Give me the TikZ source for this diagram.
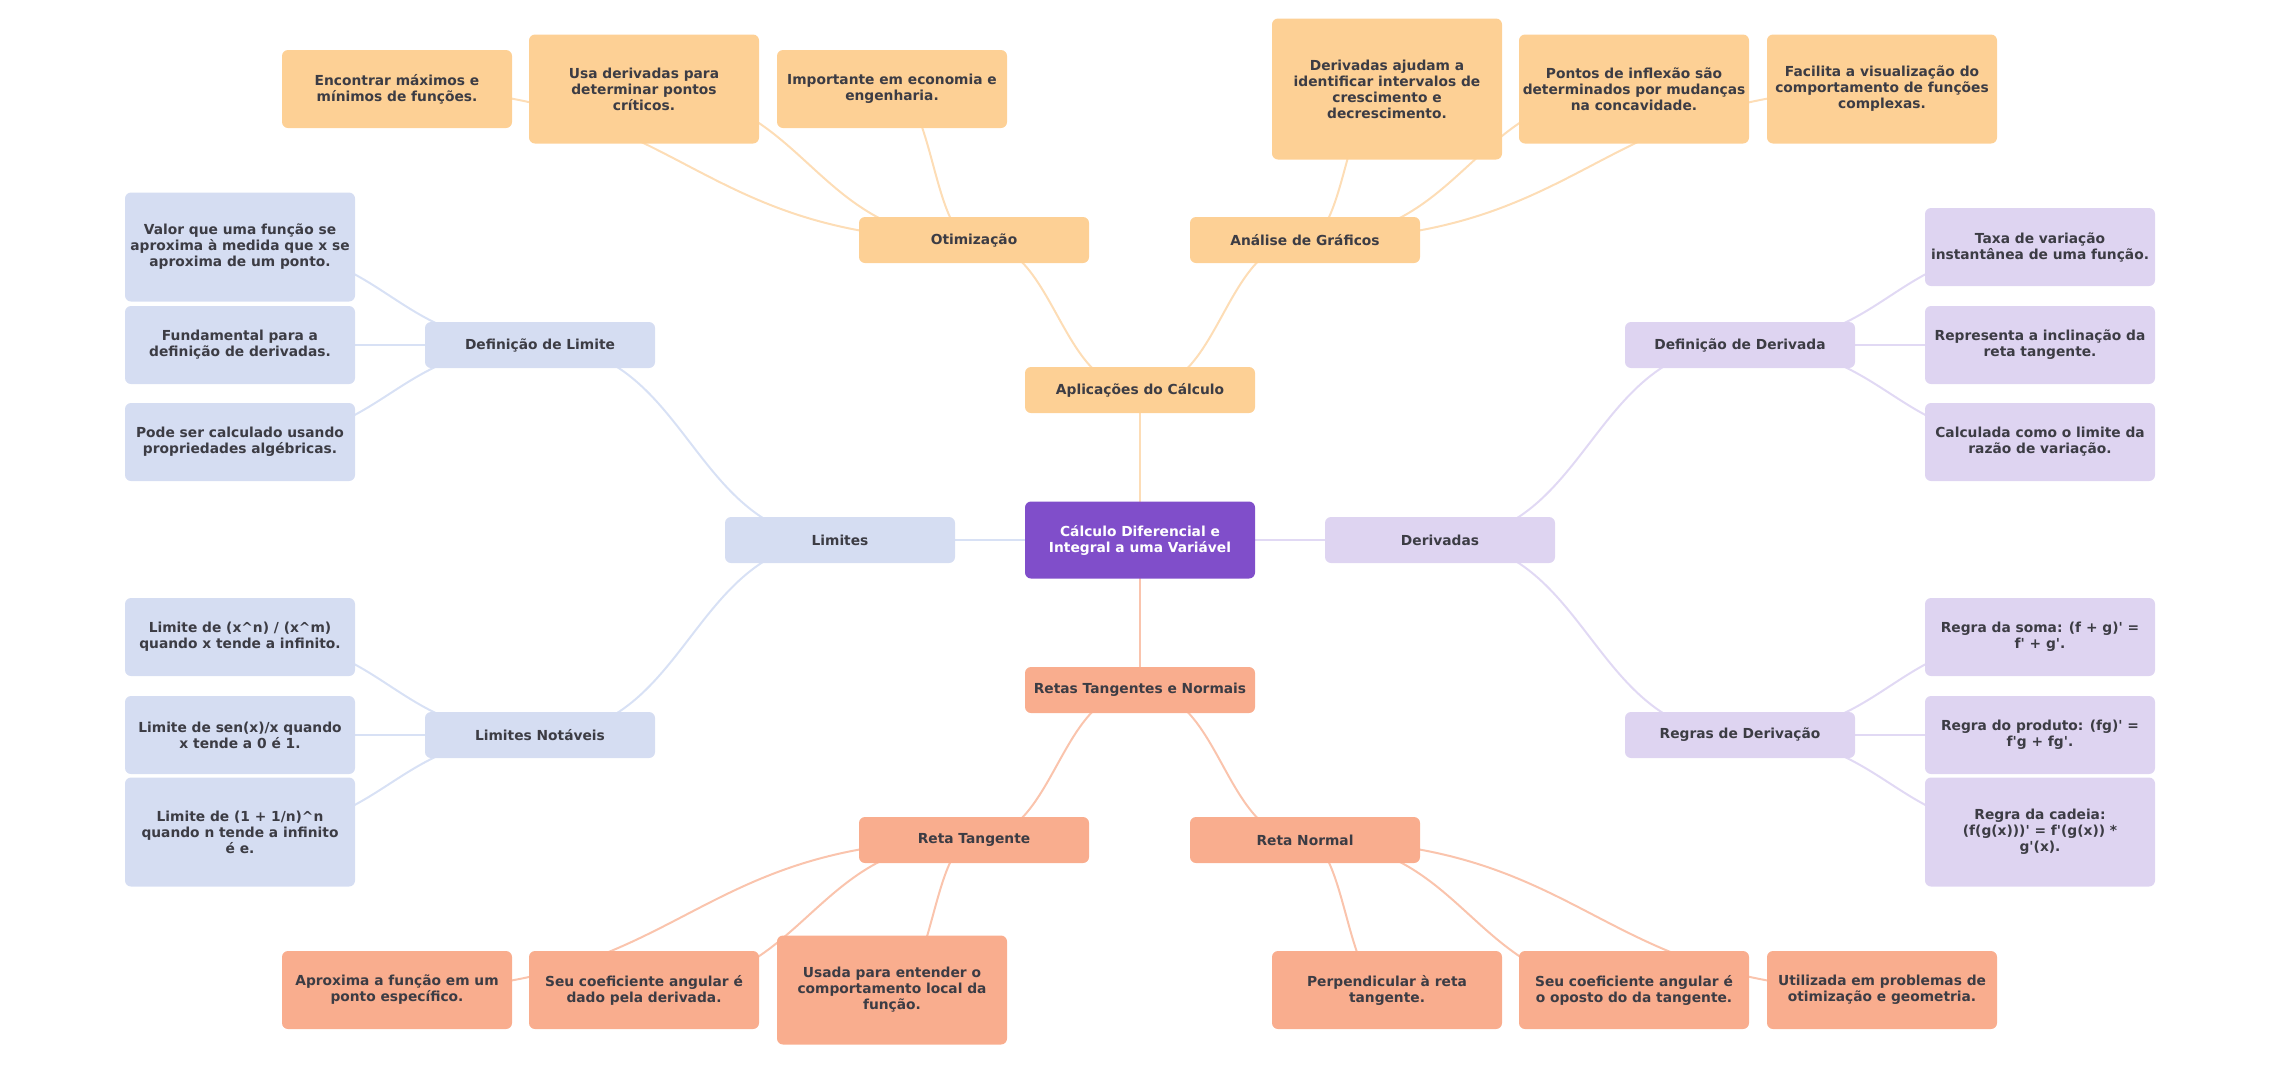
\documentclass[tikz,border=0pt]{standalone}
\usepackage{fontspec}
\setmainfont{DejaVu Sans}
\usetikzlibrary{calc,backgrounds}
\usepackage{xcolor}

\definecolor{roxo}{RGB}{128,78,202}
\definecolor{laranja}{RGB}{253,208,149}
\definecolor{laranjaL}{RGB}{253,221,182}
\definecolor{azul}{RGB}{213,221,242}
\definecolor{azulL}{RGB}{216,225,245}
\definecolor{lilas}{RGB}{222,212,241}
\definecolor{lilasL}{RGB}{225,217,244}
\definecolor{salmao}{RGB}{249,173,142}
\definecolor{salmaoL}{RGB}{250,196,173}
\definecolor{texto}{RGB}{60,60,68}

\newcommand{\aspa}{\textquotesingle}
% ligacao curva entre os centros de dois nos
\newcommand{\liga}[3]{%
  \draw[#3] let \p1=(#1.center), \p2=(#2.center) in
    (\p1) .. controls ({(\x1+\x2)/2},\y1) and ({(\x1+\x2)/2},\y2) .. (\p2);}

\tikzset{
  caixa/.style={rounded corners=6pt, align=center, minimum width=230pt,
    inner sep=3pt, font=\fontsize{13.8}{16}\selectfont\bfseries,
    text=texto, fill=#1},
  raiz/.style={caixa=roxo, text=white, minimum height=77pt},
  tema/.style={caixa=#1, minimum height=46pt},
  folha/.style={caixa=#1, minimum height=78pt},
  folhaA/.style={caixa=#1, minimum height=109pt},
  folhaB/.style={caixa=#1, minimum height=141pt},
  galho/.style={line width=2pt, draw=#1},
}

\begin{document}
\begin{tikzpicture}[x=1pt,y=-1pt]
        \useasboundingbox (0,0) rectangle (2280,1080);
        % centro e temas
        \node[raiz] (raiz) at (1140,540) {Cálculo Diferencial e\\Integral a uma Variável};
        \node[tema=laranja] (aplic) at (1140,390) {Aplicações do Cálculo};
        \node[tema=salmao] (retas) at (1140,690) {Retas Tangentes e Normais};
        \node[tema=azul] (limites) at (840,540) {Limites};
        \node[tema=lilas] (deriv) at (1440,540) {Derivadas};
        \node[tema=laranja] (otim) at (974,240) {Otimização};
        \node[tema=laranja] (analise) at (1305,240) {Análise de Gráficos};
        \node[tema=azul] (deflim) at (540,345) {Definição de Limite};
        \node[tema=azul] (limnot) at (540,735) {Limites Notáveis};
        \node[tema=lilas] (defder) at (1740,345) {Definição de Derivada};
        \node[tema=lilas] (regras) at (1740,735) {Regras de Derivação};
        \node[tema=salmao] (tang) at (974,840) {Reta Tangente};
        \node[tema=salmao] (normal) at (1305,840) {Reta Normal};
        % folhas de cima
        \node[folha=laranja] (enc) at (397,89) {Encontrar máximos e\\mínimos de funções.};
        \node[folhaA=laranja] (usa) at (644,89) {Usa derivadas para\\determinar pontos\\críticos.};
        \node[folha=laranja] (imp) at (892,89) {Importante em economia e\\engenharia.};
        \node[folhaB=laranja] (ajuda) at (1387,89) {Derivadas ajudam a\\identificar intervalos de\\crescimento e\\decrescimento.};
        \node[folhaA=laranja] (infl) at (1634,89) {Pontos de inflexão são\\determinados por mudanças\\na concavidade.};
        \node[folhaA=laranja] (visu) at (1882,89) {Facilita a visualização do\\comportamento de funções\\complexas.};
        % folhas da esquerda
        \node[folhaA=azul] (valor) at (240,247) {Valor que uma função se\\aproxima à medida que x se\\aproxima de um ponto.};
        \node[folha=azul] (fund) at (240,345) {Fundamental para a\\definição de derivadas.};
        \node[folha=azul] (pode) at (240,442) {Pode ser calculado usando\\propriedades algébricas.};
        \node[folha=azul] (xn) at (240,637) {Limite de (x\textasciicircum n) / (x\textasciicircum m)\\quando x tende a infinito.};
        \node[folha=azul] (sen) at (240,735) {Limite de sen(x)/x quando\\x tende a 0 é 1.};
        \node[folhaA=azul] (euler) at (240,832) {Limite de (1 + 1/n)\textasciicircum n\\quando n tende a infinito\\é e.};
        % folhas da direita
        \node[folha=lilas] (taxa) at (2040,247) {Taxa de variação\\instantânea de uma função.};
        \node[folha=lilas] (incl) at (2040,345) {Representa a inclinação da\\reta tangente.};
        \node[folha=lilas] (calc) at (2040,442) {Calculada como o limite da\\razão de variação.};
        \node[folha=lilas] (soma) at (2040,637) {Regra da soma: (f + g)\aspa{} =\\f\aspa{} + g\aspa.};
        \node[folha=lilas] (prod) at (2040,735) {Regra do produto: (fg)\aspa{} =\\f\aspa g + fg\aspa.};
        \node[folhaA=lilas] (cadeia) at (2040,832) {Regra da cadeia:\\(f(g(x)))\aspa{} = f\aspa(g(x)) *\\g\aspa(x).};
        % folhas de baixo
        \node[folha=salmao] (aprox) at (397,990) {Aproxima a função em um\\ponto específico.};
        \node[folha=salmao] (coefT) at (644,990) {Seu coeficiente angular é\\dado pela derivada.};
        \node[folhaA=salmao] (usada) at (892,990) {Usada para entender o\\comportamento local da\\função.};
        \node[folha=salmao] (perp) at (1387,990) {Perpendicular à reta\\tangente.};
        \node[folha=salmao] (coefN) at (1634,990) {Seu coeficiente angular é\\o oposto do da tangente.};
        \node[folha=salmao] (util) at (1882,990) {Utilizada em problemas de\\otimização e geometria.};
        % ligacoes por baixo das caixas
        \begin{scope}[on background layer]
        \foreach \a/\b in {raiz/aplic,aplic/otim,aplic/analise,otim/enc,otim/usa,otim/imp,analise/ajuda,analise/infl,analise/visu}
        {\liga{\a}{\b}{galho=laranjaL}}
        \foreach \a/\b in {raiz/limites,limites/deflim,limites/limnot,deflim/valor,deflim/fund,deflim/pode,limnot/xn,limnot/sen,limnot/euler}
        {\liga{\a}{\b}{galho=azulL}}
        \foreach \a/\b in {raiz/deriv,deriv/defder,deriv/regras,defder/taxa,defder/incl,defder/calc,regras/soma,regras/prod,regras/cadeia}
        {\liga{\a}{\b}{galho=lilasL}}
        \foreach \a/\b in {raiz/retas,retas/tang,retas/normal,tang/aprox,tang/coefT,tang/usada,normal/perp,normal/coefN,normal/util}
        {\liga{\a}{\b}{galho=salmaoL}}
        \end{scope}
\end{tikzpicture}
\end{document}
